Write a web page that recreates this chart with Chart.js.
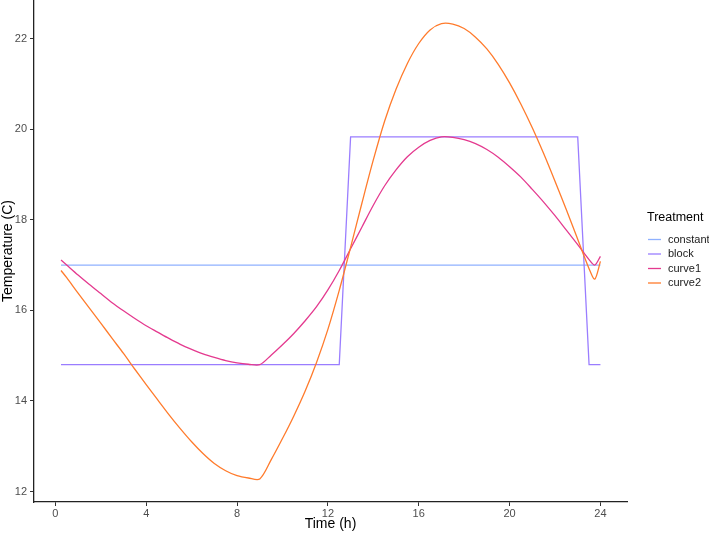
<!DOCTYPE html>
<html>
<head>
<meta charset="utf-8">
<script src="https://cdn.jsdelivr.net/npm/chart.js@4"></script>
<style>
  html, body { margin: 0; padding: 0; background: #fff; }
  canvas { display: block; }
</style>
</head>
<body>
<canvas id="myChart" width="709" height="534"></canvas>
<script>
const curveHours = [0.25, 0.5, 1, 1.5, 2, 2.5, 3, 3.5, 4, 4.5, 5, 5.5, 6, 6.5, 7, 7.5, 8, 8.5, 9,
  9.5, 10, 10.5, 11, 11.5, 12, 12.5, 13, 13.5, 14, 14.5, 15, 15.5, 16, 16.5, 17,
  17.5, 18, 18.5, 19, 19.5, 20, 20.5, 21, 21.5, 22, 22.5, 23, 23.5, 23.75, 24];
const curve1 = [17.11, 17.0, 16.78, 16.57, 16.37, 16.17, 15.99, 15.82, 15.66, 15.52, 15.38, 15.25, 15.14, 15.04, 14.96, 14.89, 14.84, 14.81, 14.8,
  15.01, 15.24, 15.49, 15.77, 16.08, 16.45, 16.88, 17.36, 17.84, 18.32, 18.75, 19.1, 19.39, 19.6, 19.75, 19.83,
  19.82, 19.77, 19.68, 19.55, 19.38, 19.17, 18.94, 18.67, 18.39, 18.09, 17.77, 17.45, 17.12, 17.0, 17.19];
const curve2 = [16.88, 16.72, 16.38, 16.05, 15.72, 15.38, 15.05, 14.7, 14.36, 14.03, 13.7, 13.39, 13.1, 12.84, 12.62, 12.46, 12.35, 12.3, 12.28,
  12.7, 13.17, 13.67, 14.22, 14.85, 15.58, 16.44, 17.39, 18.37, 19.32, 20.18, 20.88, 21.45, 21.89, 22.19, 22.33,
  22.32, 22.22, 22.03, 21.77, 21.43, 21.02, 20.55, 20.03, 19.46, 18.85, 18.22, 17.57, 16.92, 16.69, 17.08];
const blockHours = [0.25, 12.5, 13, 23, 23.5, 24];
const block = [14.8, 14.8, 19.83, 19.83, 14.8, 14.8];
const constantHours = [0.25, 24];
const constant = [17, 17];
const xTicks = [0, 4, 8, 12, 16, 20, 24];
const yTicks = [12, 14, 16, 18, 20, 22];

const colors = {
  constant: "#8fb1ff",
  block: "#9a7dff",
  curve1: "#e43a8f",
  curve2: "#ff7b2c",
};
const font = "'Liberation Sans', Arial, sans-serif";

const toPoints = (xs, ys) => xs.map((x, i) => ({ x, y: ys[i] }));

// ggplot-style legend on the right, drawn from the datasets
const legendBox = {
  id: "legendBox",
  afterDraw(chart) {
    const { ctx } = chart;
    ctx.save();
    ctx.textBaseline = "middle";
    ctx.textAlign = "left";
    ctx.fillStyle = "#000";
    ctx.font = `12.5px ${font}`;
    ctx.fillText("Treatment", 647, 218);
    ctx.font = `11px ${font}`;
    chart.data.datasets.forEach((ds, i) => {
      const y = 239.5 + i * 14.5;
      ctx.strokeStyle = ds.borderColor;
      ctx.lineWidth = 1.3;
      ctx.beginPath();
      ctx.moveTo(648, y);
      ctx.lineTo(661, y);
      ctx.stroke();
      ctx.fillStyle = "#1a1a1a";
      ctx.fillText(ds.label, 668, y);
    });
    ctx.restore();
  },
};

const ctx = document.getElementById("myChart");

new Chart(ctx, {
  type: "line",
  data: {
    datasets: [
      { label: "constant", data: toPoints(constantHours, constant), borderColor: colors.constant, tension: 0, order: 3 },
      { label: "block", data: toPoints(blockHours, block), borderColor: colors.block, tension: 0, order: 2 },
      { label: "curve1", data: toPoints(curveHours, curve1), borderColor: colors.curve1, tension: 0.3, order: 1 },
      { label: "curve2", data: toPoints(curveHours, curve2), borderColor: colors.curve2, tension: 0.3, order: 0 },
    ],
  },
  options: {
    responsive: false,
    animation: false,
    devicePixelRatio: 1,
    layout: { padding: { top: 0, right: 82, bottom: 0, left: 0 } },
    elements: {
      point: { radius: 0 },
      line: { borderWidth: 1.3, fill: false },
    },
    plugins: {
      legend: { display: false },
      tooltip: { enabled: false },
    },
    scales: {
      x: {
        type: "linear",
        min: -0.94,
        max: 25.17,
        afterBuildTicks: (scale) => {
          scale.ticks = xTicks.map((value) => ({ value }));
        },
        afterFit: (scale) => {
          scale.height = 32;
          scale.paddingLeft = 0;
          scale.paddingRight = 0;
        },
        grid: {
          drawOnChartArea: false,
          drawTicks: true,
          tickLength: 4,
          color: "#333",
          lineWidth: 1,
        },
        border: { display: true, color: "#222", width: 1.3 },
        ticks: {
          color: "#4d4d4d",
          padding: 1,
          maxRotation: 0,
          font: { family: font, size: 11 },
        },
        title: {
          display: true,
          text: "Time (h)",
          color: "#000",
          padding: { top: 0, bottom: 1 },
          font: { family: font, size: 14 },
        },
      },
      y: {
        type: "linear",
        min: 11.77,
        max: 22.85,
        afterBuildTicks: (scale) => {
          scale.ticks = yTicks.map((value) => ({ value }));
        },
        afterFit: (scale) => {
          scale.width = 34;
          scale.paddingTop = 0;
          scale.paddingBottom = 0;
        },
        grid: {
          drawOnChartArea: false,
          drawTicks: true,
          tickLength: 4,
          color: "#333",
          lineWidth: 1,
        },
        border: { display: true, color: "#222", width: 1.3 },
        ticks: {
          color: "#4d4d4d",
          padding: 3,
          font: { family: font, size: 11 },
        },
        title: {
          display: true,
          text: "Temperature (C)",
          color: "#000",
          padding: { top: 0, bottom: 0 },
          font: { family: font, size: 14 },
        },
      },
    },
  },
  plugins: [legendBox],
});
</script>
</body>
</html>
